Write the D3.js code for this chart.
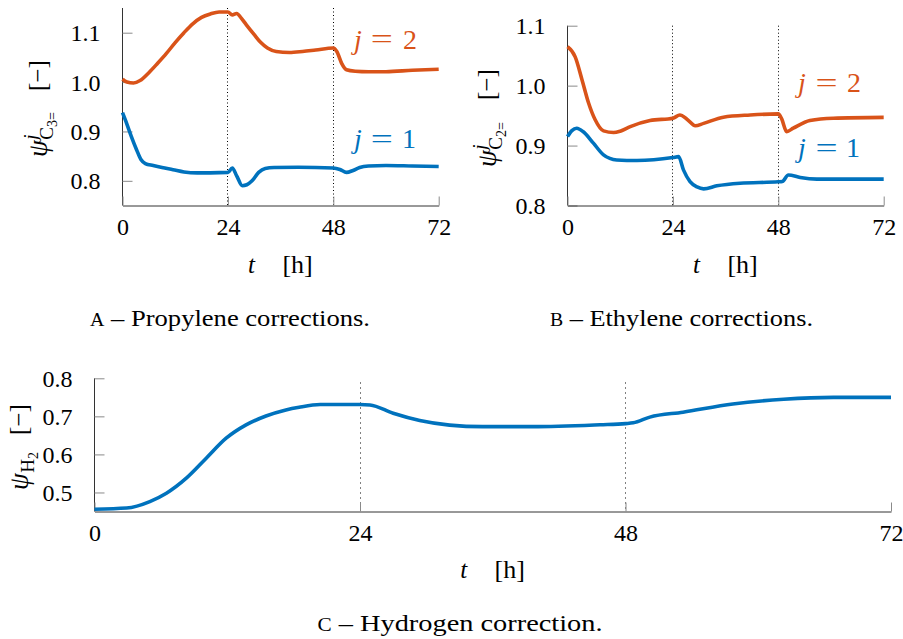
<!DOCTYPE html>
<html>
<head>
<meta charset="utf-8">
<script src="https://cdn.jsdelivr.net/npm/d3@7"></script>
<style>
  html, body { margin: 0; padding: 0; background: #fff; }
  svg { display: block; font-family: "Liberation Serif", "Times New Roman", serif; }
  svg text { fill: #000; }
</style>
</head>
<body>
<svg id="fig" width="903" height="639"></svg>
<script>
// Time axis (hours) and feed switch instants
const timeTicks = [0, 24, 48, 72];
const switchTimes = [24, 48];

// Propylene corrections, j = 2
const propTime2 = [0, 1, 2.5, 4, 6, 8, 10, 12, 14, 16, 18, 20, 22, 24, 25, 26, 27, 28.2, 30, 31.5, 33, 35, 38, 41, 44, 48, 48.8, 49.9, 51, 53, 56, 60, 66, 72];
const propPsi2  = [1.006, 1.000, 0.998, 1.003, 1.019, 1.038, 1.058, 1.080, 1.100, 1.118, 1.131, 1.138, 1.142, 1.142, 1.136, 1.139, 1.130, 1.116, 1.096, 1.080, 1.069, 1.062, 1.060, 1.062, 1.065, 1.069, 1.062, 1.038, 1.025, 1.022, 1.021, 1.021, 1.024, 1.026];

// Propylene corrections, j = 1
const propTime1 = [0, 1, 2, 3.2, 4.2, 5.2, 7, 9, 11.5, 14, 17, 20, 24, 25, 26, 27.3, 28.3, 29.5, 31, 32.5, 34.5, 40, 48, 49.5, 51, 52.5, 54, 56, 60, 66, 72];
const propPsi1  = [0.938, 0.915, 0.890, 0.863, 0.843, 0.835, 0.831, 0.827, 0.8226, 0.818, 0.816, 0.816, 0.817, 0.826, 0.810, 0.790, 0.792, 0.800, 0.817, 0.825, 0.827, 0.8275, 0.826, 0.823, 0.817, 0.821, 0.827, 0.830, 0.831, 0.830, 0.829];

// Ethylene corrections, j = 2
const ethTime2 = [0, 1.75, 3.3, 4.8, 6.3, 8.2, 10.5, 12, 14.3, 18.8, 24, 25.6, 27.2, 29.1, 31, 35.5, 41.6, 48, 48.8, 49.9, 51.4, 55.2, 60.5, 72];
const ethPsi2  = [1.065, 1.048, 1.010, 0.971, 0.943, 0.9245, 0.9217, 0.924, 0.9317, 0.9417, 0.9457, 0.951, 0.944, 0.933, 0.937, 0.9473, 0.951, 0.9528, 0.944, 0.9233, 0.929, 0.9417, 0.9457, 0.947];

// Ethylene corrections, j = 1
const ethTime1 = [0, 1, 2.1, 3.6, 5.9, 8.2, 11.2, 15.8, 24, 25.3, 26.4, 27.9, 29.5, 31, 34, 39.3, 48, 48.9, 50.3, 53, 56.8, 72];
const ethPsi1  = [0.915, 0.925, 0.929, 0.923, 0.904, 0.8845, 0.876, 0.875, 0.880, 0.8815, 0.8595, 0.840, 0.831, 0.8278, 0.8328, 0.8372, 0.8395, 0.840, 0.851, 0.8467, 0.844, 0.844];

// Hydrogen correction
const h2Time = [0, 2.9, 5, 6.5, 8.3, 10.1, 11.9, 13.7, 15.5, 17.3, 18.5, 20.4, 24, 24.9, 27, 29.4, 32.1, 35.1, 39.6, 45.7, 48, 48.7, 50.2, 53.2, 57.7, 62.3, 66.8, 72];
const h2Psi  = [0.456, 0.459, 0.476, 0.498, 0.5375, 0.590, 0.6425, 0.6775, 0.701, 0.717, 0.724, 0.731, 0.731, 0.730, 0.708, 0.689, 0.677, 0.673, 0.673, 0.678, 0.681, 0.683, 0.698, 0.711, 0.7325, 0.745, 0.750, 0.750];

// Value-axis ticks
const propTicks = [0.8, 0.9, 1.0, 1.1];
const ethTicks = [0.8, 0.9, 1.0, 1.1];
const h2Ticks = [0.5, 0.6, 0.7, 0.8];

const ORANGE = "#D95319";
const BLUE = "#0072BD";

const svg = d3.select("#fig");
const zip = (ts, vs) => ts.map((t, i) => [t, vs[i]]);
const crisp = v => Math.round(v - 0.5) + 0.5;

function drawPanel(cfg) {
  const x = d3.scaleLinear().domain([0, 72]).range([cfg.left, cfg.right]);
  const y = d3.scaleLinear().domain(cfg.yDomain).range([cfg.bottom, cfg.top]);
  const g = svg.append("g");

  // dotted markers at the feed switches
  g.selectAll("line.switch").data(switchTimes).join("line")
    .attr("x1", d => crisp(x(d))).attr("x2", d => crisp(x(d)))
    .attr("y1", cfg.dotTop).attr("y2", cfg.bottom)
    .attr("stroke", "#000").attr("stroke-width", 1)
    .attr("stroke-dasharray", cfg.dash);

  // value axis
  const ya = g.append("g").attr("transform", `translate(${cfg.left},0)`)
    .call(d3.axisLeft(y).tickValues(cfg.yTicks).tickFormat(d3.format(".1f"))
      .tickSizeInner(-10).tickSizeOuter(0).tickPadding(22));
  // time axis
  const xa = g.append("g").attr("transform", `translate(0,${cfg.bottom})`)
    .call(d3.axisBottom(x).tickValues(timeTicks).tickFormat(d3.format("d"))
      .tickSizeInner(-9).tickSizeOuter(0).tickPadding(19));

  [ya, xa].forEach(a => {
    a.attr("font-family", null).attr("font-size", null);
    a.select(".domain").attr("stroke", "#333").attr("stroke-width", 1);
    a.selectAll(".tick line").attr("stroke", "#8a8a8a").attr("stroke-width", 1);
    a.selectAll(".tick text").style("font-size", "24px");
  });
  ya.selectAll(".tick text").attr("dy", "0.34em");
  xa.selectAll(".tick text").attr("dy", "0.42em");
  ya.select(".domain").attr("d", `M0,${cfg.top}V${cfg.bottom}`);

  // curves
  const line = d3.line().x(d => x(d[0])).y(d => y(d[1])).curve(d3.curveMonotoneX);
  cfg.series.forEach(s => {
    g.append("path").datum(zip(s.t, s.v))
      .attr("fill", "none").attr("stroke", s.color).attr("stroke-width", 3.6)
      .attr("stroke-linejoin", "round")
      .attr("d", line);
  });

  // time axis title
  const cx = (cfg.left + cfg.right) / 2;
  g.append("text").attr("x", cx - 29).attr("y", cfg.tBase).attr("text-anchor", "middle")
    .style("font-size", "25px").style("font-style", "italic").text("t");
  g.append("text").attr("x", cx + 17).attr("y", cfg.tBase).attr("text-anchor", "middle")
    .style("font-size", "26px").text("[h]");

  return { x, y, g };
}

// rotated value-axis title: psi with optional superscript j and a subscript species, then the unit
function yTitle(bx, yStart, unitStart, sub, subsub, sup) {
  const g = svg.append("g").attr("transform", `translate(${bx},${yStart}) rotate(-90)`);
  const psi = g.append("text").attr("x", 0).attr("y", 0)
    .style("font-size", "27px").style("font-style", "italic").text("ψ");
  const w = psi.node().getComputedTextLength();
  if (sup) {
    g.append("text").attr("x", w + 0.5).attr("y", -10)
      .style("font-size", "19px").style("font-style", "italic").text(sup);
  }
  const s = g.append("text").attr("x", w + 0.5).attr("y", 6).style("font-size", "19px").text(sub);
  const sw = s.node().getComputedTextLength();
  if (subsub) {
    g.append("text").attr("x", w + 0.5 + sw).attr("y", 9.5).style("font-size", "14px").text(subsub);
  }
  g.append("text").attr("x", yStart - unitStart).attr("y", -1).attr("text-anchor", "start")
    .style("font-size", "25px").text("[−]");
}

// "j = n" series tags
function tag(jx, eqx, nx, base, n, color) {
  const g = svg.append("g");
  g.append("text").attr("x", jx).attr("y", base).style("fill", color)
    .style("font-size", "28px").style("font-style", "italic").text("j");
  g.append("text").attr("x", eqx).attr("y", base).attr("text-anchor", "middle").style("fill", color)
    .style("font-size", "28px").attr("transform", `translate(${eqx},0) scale(1.4,1) translate(${-eqx},0)`).text("=");
  g.append("text").attr("x", nx).attr("y", base).attr("text-anchor", "middle").style("fill", color)
    .style("font-size", "28px").text(n);
}

// caption with a small-caps panel letter
function caption(cx, base, letter, body, width) {
  const t = svg.append("text").attr("x", cx).attr("y", base).attr("text-anchor", "middle")
    .style("font-size", "24px").attr("textLength", width).attr("lengthAdjust", "spacingAndGlyphs");
  t.append("tspan").style("font-size", "18px").text(letter);
  t.append("tspan").text(" – " + body);
}

// A: propylene
drawPanel({
  left: 122.5, right: 438.7, top: 8, bottom: 205.5, dotTop: 8,
  yDomain: [0.75, 1.15], yTicks: propTicks, dash: "1,2.5", tBase: 273,
  series: [{ t: propTime2, v: propPsi2, color: ORANGE }, { t: propTime1, v: propPsi1, color: BLUE }]
});
// B: ethylene
drawPanel({
  left: 567.5, right: 883.7, top: 25.7, bottom: 205.5, dotTop: 25.7,
  yDomain: [0.8, 1.1], yTicks: ethTicks, dash: "1,2.5", tBase: 273,
  series: [{ t: ethTime2, v: ethPsi2, color: ORANGE }, { t: ethTime1, v: ethPsi1, color: BLUE }]
});
// C: hydrogen
drawPanel({
  left: 94.5, right: 891, top: 378.3, bottom: 511.5, dotTop: 382.5,
  yDomain: [0.45, 0.8], yTicks: h2Ticks, dash: "1,4", tBase: 578,
  series: [{ t: h2Time, v: h2Psi, color: BLUE }]
});

yTitle(47, 157, 91, "C", "3=", "j");
yTitle(496, 167, 100, "C", "2=", "j");
yTitle(28, 490, 435, "H", "2", null);

tag(354, 381.7, 410, 48.5, "2", ORANGE);
tag(354, 381.7, 409, 148, "1", BLUE);
tag(798, 826.5, 854, 92, "2", ORANGE);
tag(798, 826.5, 853, 157, "1", BLUE);

caption(230, 326, "A", "Propylene corrections.", 280);
caption(681.5, 326, "B", "Ethylene corrections.", 263);
caption(460, 631, "C", "Hydrogen correction.", 285);
</script>
</body>
</html>
